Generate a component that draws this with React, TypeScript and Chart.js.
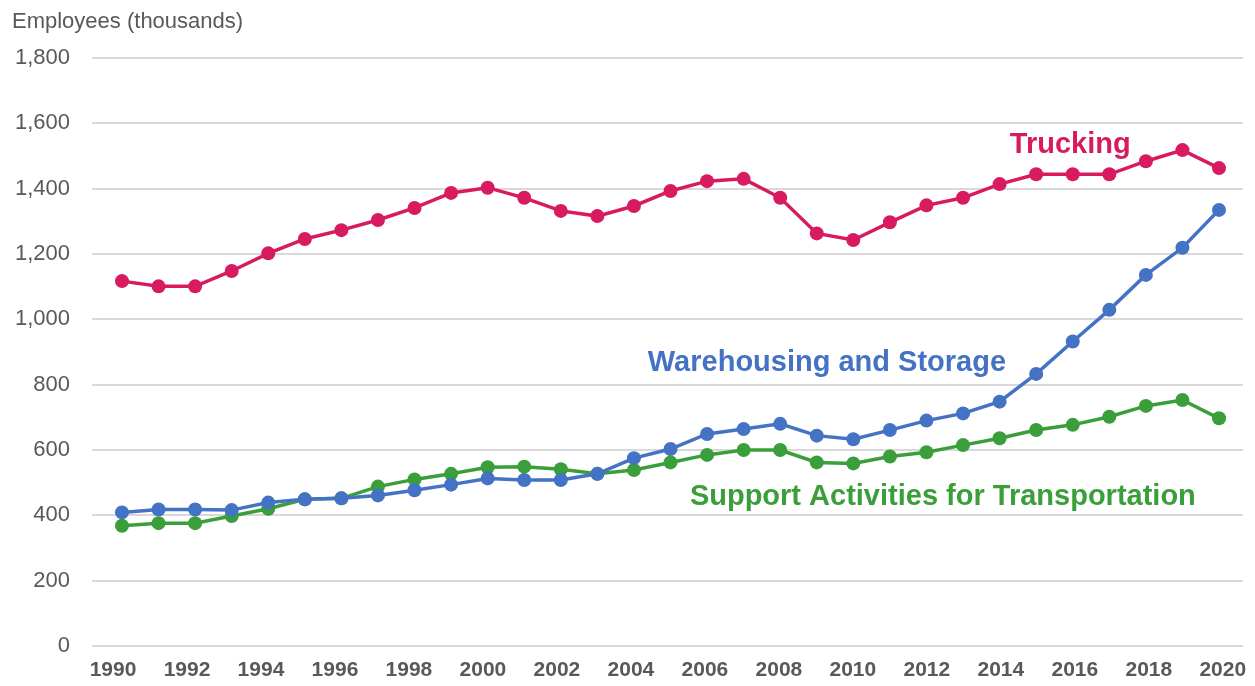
import React, { useEffect, useRef } from "react";
import { Chart, registerables } from "chart.js";

Chart.register(...registerables);

const years: number[] = [
  1990, 1991, 1992, 1993, 1994, 1995, 1996, 1997, 1998, 1999, 2000,
  2001, 2002, 2003, 2004, 2005, 2006, 2007, 2008, 2009, 2010,
  2011, 2012, 2013, 2014, 2015, 2016, 2017, 2018, 2019, 2020,
];

const trucking: number[] = [
  1117, 1101, 1101, 1148, 1202, 1246, 1273, 1304, 1341, 1387, 1403,
  1372, 1332, 1316, 1347, 1393, 1423, 1430, 1372, 1263, 1243,
  1297, 1349, 1372, 1414, 1444, 1444, 1444, 1484, 1518, 1463,
];

const warehousing: number[] = [
  409, 418, 418, 416, 439, 449, 452, 461, 477, 494, 513,
  508, 508, 527, 575, 603, 649, 664, 680, 644, 633,
  661, 690, 712, 748, 833, 932, 1029, 1136, 1219, 1335,
];

const support: number[] = [
  368, 376, 376, 398, 420, 449, 452, 488, 510, 527, 547,
  549, 541, 527, 539, 562, 585, 600, 600, 562, 559,
  580, 593, 615, 636, 661, 677, 702, 735, 753, 697,
];

const yTicks: number[] = [0, 200, 400, 600, 800, 1000, 1200, 1400, 1600, 1800];
const xTickYears: number[] = [
  1990, 1992, 1994, 1996, 1998, 2000, 2002, 2004,
  2006, 2008, 2010, 2012, 2014, 2016, 2018, 2020,
];

const seriesNames: string[] = [
  "Trucking",
  "Warehousing and Storage",
  "Support Activities for Transportation",
];

// label anchor (left, baseline) in data units: [year, value]
const labelYears: number[] = [2014.28, 2004.38, 2005.53];
const labelValues: number[] = [1509, 843, 432];

const colors: string[] = ["#D81B60", "#4472C4", "#3A9E3A"];

const SANS = "'Liberation Sans', Arial, sans-serif";

export default function App() {
  const ref = useRef<HTMLCanvasElement | null>(null);

  useEffect(() => {
    document.body.style.margin = "0";
    const canvas = ref.current;
    if (!canvas) return;

    const seriesData = [trucking, warehousing, support];

    const labelPlugin = {
      id: "seriesLabels",
      afterDatasetsDraw(chart: any) {
        const ctx = chart.ctx;
        const xs = chart.scales.x;
        const ys = chart.scales.y;
        ctx.save();
        ctx.font = `bold 29px ${SANS}`;
        ctx.textAlign = "left";
        ctx.textBaseline = "alphabetic";
        seriesNames.forEach((name, i) => {
          ctx.fillStyle = colors[i];
          ctx.fillText(name, xs.getPixelForValue(labelYears[i]), ys.getPixelForValue(labelValues[i]));
        });
        ctx.restore();
      },
    };

    const chart = new Chart(canvas, {
      type: "line",
      data: {
        datasets: seriesData.map((vals, i) => ({
          label: seriesNames[i],
          data: years.map((y, j) => ({ x: y, y: vals[j] })),
          borderColor: colors[i],
          backgroundColor: colors[i],
          pointBackgroundColor: colors[i],
          pointBorderColor: colors[i],
          borderWidth: 3.5,
          pointRadius: 7,
          pointBorderWidth: 0,
          tension: 0,
          fill: false,
        })),
      },
      options: {
        responsive: false,
        animation: false,
        layout: { padding: { left: 12, right: 12, top: 0, bottom: 0 } },
        plugins: {
          legend: { display: false },
          tooltip: { enabled: false },
          title: {
            display: true,
            text: "Employees (thousands)",
            align: "start",
            color: "#595959",
            font: { family: SANS, size: 22, weight: "normal", lineHeight: 1.2 },
            padding: { top: 9, bottom: 22.6 },
          },
        },
        scales: {
          x: {
            type: "linear",
            display: false,
            min: 1989.18,
            max: 2020.656,
          },
          xLabels: {
            type: "linear",
            axis: "x",
            position: "bottom",
            min: 1989.4324,
            max: 2020.546,
            grid: { display: false, drawTicks: false },
            border: { display: false },
            afterFit: (s: any) => {
              s.height = 40;
              s.paddingLeft = 0;
              s.paddingRight = 0;
            },
            afterBuildTicks: (s: any) => {
              s.ticks = xTickYears.map((v) => ({ value: v }));
            },
            ticks: {
              color: "#595959",
              padding: 12,
              autoSkip: false,
              maxRotation: 0,
              font: { family: SANS, size: 21, weight: "bold" },
              callback: (v: any) => String(v),
            },
          },
          y: {
            type: "linear",
            min: 0,
            max: 1800,
            grid: { color: "#D9D9D9", lineWidth: 2, drawTicks: false },
            border: { display: false },
            afterFit: (s: any) => {
              s.width = 80;
            },
            afterBuildTicks: (s: any) => {
              s.ticks = yTicks.map((v) => ({ value: v }));
            },
            ticks: {
              color: "#595959",
              padding: 22,
              font: { family: SANS, size: 22, weight: "normal" },
              callback: (v: any) => Number(v).toLocaleString("en-US"),
            },
          },
        },
      },
      plugins: [labelPlugin],
    } as any);

    return () => chart.destroy();
  }, []);

  return (
    <div style={{ position: "fixed", left: 0, top: 0, width: 1255, height: 686, background: "#fff" }}>
      <canvas ref={ref} width={1255} height={686} style={{ display: "block" }} />
    </div>
  );
}
